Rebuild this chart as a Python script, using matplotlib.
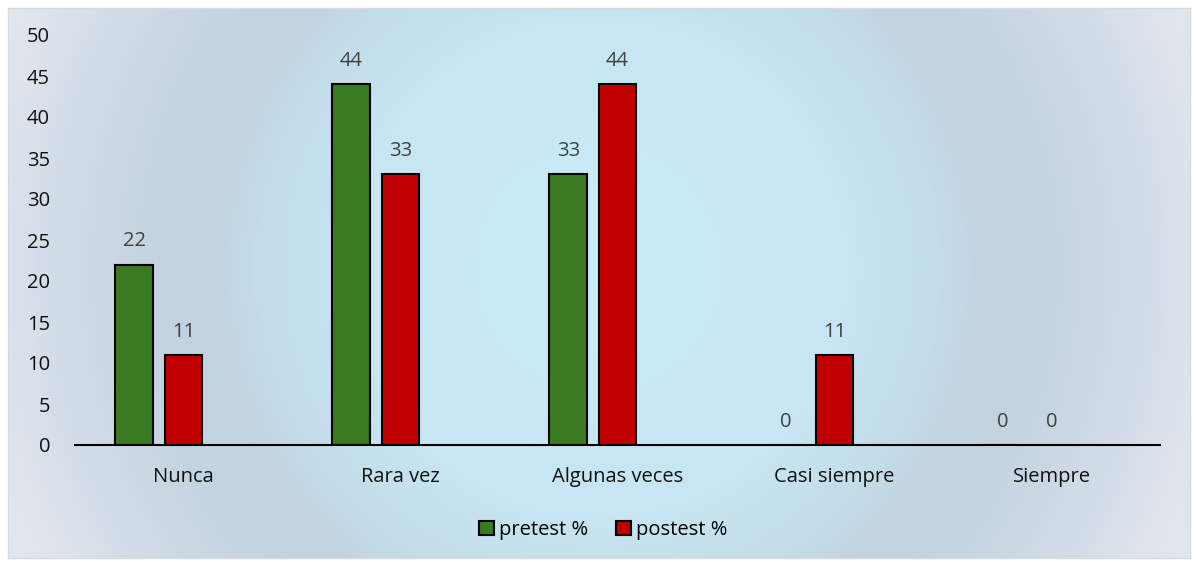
import numpy as np
import matplotlib.pyplot as plt
from matplotlib.colors import to_rgb
from matplotlib.patches import Patch

categories = ["Nunca", "Rara vez", "Algunas veces", "Casi siempre", "Siempre"]
pretest = [22, 44, 33, 0, 0]
postest = [11, 33, 44, 11, 0]
series_names = ["pretest %", "postest %"]
y_ticks = [0, 5, 10, 15, 20, 25, 30, 35, 40, 45, 50]

GREEN = "#3a7a23"
RED = "#c00000"
FONT = ["Open Sans", "DejaVu Sans"]
FS = 14.5

W, H = 1196, 562
fig = plt.figure(figsize=(W / 100, H / 100), dpi=100)
fig.patch.set_facecolor("white")

# circular gradient panel behind the chart (stops given as pixel radius)
px0, py0, pw, ph = 8, 8, 1182, 550
bg = fig.add_axes([px0 / W, (H - py0 - ph) / H, pw / W, ph / H])
bg.set_zorder(0)
cx, cy = 599, 268
xs = np.arange(px0, px0 + pw) + 0.5
ys = np.arange(py0, py0 + ph) + 0.5
XX, YY = np.meshgrid(xs, ys)
D = np.hypot(XX - cx, YY - cy)
stops = [(0, "#caedfa"), (250, "#c7e5f2"), (340, "#c3dde9"), (390, "#c1d3df"),
         (460, "#c5d5e1"), (560, "#d5dee8"), (610, "#dfe4ec"), (700, "#e5e9f0")]
pos = [s[0] for s in stops]
cols = np.array([to_rgb(s[1]) for s in stops])
img = np.dstack([np.interp(D, pos, cols[:, k]) for k in range(3)])
bg.imshow(img, aspect="auto", extent=(0, 1, 0, 1), interpolation="bilinear")
bg.set_xticks([])
bg.set_yticks([])
for s in bg.spines.values():
    s.set_edgecolor("#d9d9d9")
    s.set_linewidth(1)

ax = fig.add_axes([75 / W, (H - 445) / H, (1160 - 75) / W, 410 / H])
ax.set_zorder(1)
ax.patch.set_alpha(0)

x = np.arange(len(categories))
bw = 0.175
step = 0.226
b1 = ax.bar(x - step, pretest, bw, color=GREEN, edgecolor="black", linewidth=1.5, label=series_names[0])
b2 = ax.bar(x, postest, bw, color=RED, edgecolor="black", linewidth=1.5, label=series_names[1])

for bars, vals in ((b1, pretest), (b2, postest)):
    for rect, v in zip(bars, vals):
        ax.text(rect.get_x() + rect.get_width() / 2, v + 1.6, f"{v}",
                ha="center", va="bottom", fontsize=FS, color="#404040", family=FONT)

ax.set_xlim(-0.5, len(categories) - 0.5)
ax.set_ylim(0, 50)
ax.set_yticks(y_ticks)
ax.set_xticks(x)
ax.set_xticklabels(categories)
for lab in ax.get_xticklabels() + ax.get_yticklabels():
    lab.set_family(FONT)
    lab.set_fontsize(FS)
    lab.set_color("#111111")
ax.tick_params(axis="both", length=0)
ax.tick_params(axis="y", pad=18)
ax.tick_params(axis="x", pad=16)
for side in ("top", "right", "left"):
    ax.spines[side].set_visible(False)
ax.spines["bottom"].set_linewidth(1.5)
ax.spines["bottom"].set_color("black")
ax.spines["bottom"].set_zorder(3)

handles = [Patch(facecolor=GREEN, edgecolor="black", linewidth=1.5),
           Patch(facecolor=RED, edgecolor="black", linewidth=1.5)]
fig.legend(handles, series_names, loc="center", bbox_to_anchor=(603 / W, (H - 530) / H),
           ncol=2, frameon=False, prop={"family": FONT, "size": FS},
           handlelength=0.75, handleheight=0.75, handletextpad=0.25, columnspacing=1.4)

fig.savefig("out.png", dpi=100)
